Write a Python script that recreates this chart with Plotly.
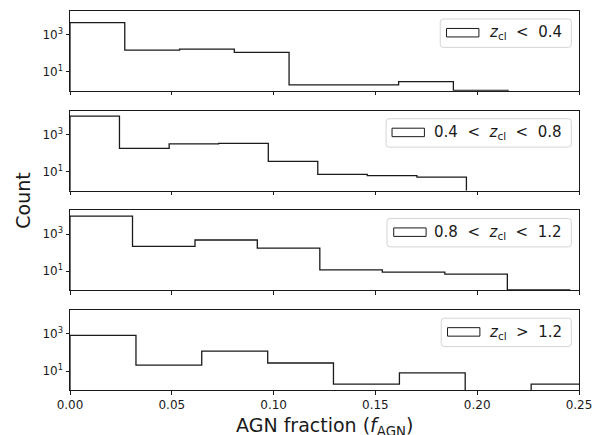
import plotly.graph_objects as go

# ---------------- data ----------------
edges_1 = [0.0, 0.0269, 0.0538, 0.0807, 0.1076, 0.1345, 0.1614, 0.1883, 0.2152]
counts_1 = [4400, 147, 166, 110, 2, 2, 3, 1]

edges_2 = [0.0, 0.0243, 0.0487, 0.0730, 0.0974, 0.1217, 0.1460, 0.1704, 0.1947]
counts_2 = [9500, 178, 307, 330, 35, 7, 6, 5]

edges_3 = [0.0, 0.0307, 0.0614, 0.0920, 0.1227, 0.1534, 0.1841, 0.2148, 0.2454]
counts_3 = [9200, 218, 480, 178, 12, 9, 7, 1]

edges_4 = [0.0, 0.0324, 0.0647, 0.0971, 0.1294, 0.1618, 0.1941, 0.2265, 0.2588]
counts_4 = [820, 21, 117, 27, 2, 8, 0, 2]

legend_labels = [
    "<i>z</i><sub>cl</sub>\u00a0\u00a0<\u00a0\u00a00.4",
    "0.4\u00a0\u00a0<\u00a0\u00a0<i>z</i><sub>cl</sub>\u00a0\u00a0<\u00a0\u00a00.8",
    "0.8\u00a0\u00a0<\u00a0\u00a0<i>z</i><sub>cl</sub>\u00a0\u00a0<\u00a0\u00a01.2",
    "<i>z</i><sub>cl</sub>\u00a0\u00a0>\u00a0\u00a01.2",
]

x_ticks = [0.0, 0.05, 0.10, 0.15, 0.20, 0.25]
y_ticks = [10, 1000]
y_ticktext = ["10<sup>1</sup>", "10<sup>3</sup>"]

# ---------------- layout geometry (pixels) ----------------
W, H = 602, 435
L, R = 70, 581
TOP, BOT = 10, 390
panel_tops = [10, 110, 210, 310]
panel_h = 80
FONT = "DejaVu Sans"
INK = "#1a1a1a"

def px(x, y):
    return ((x - L) / (R - L), (BOT - y) / (BOT - TOP))

fig = go.Figure()

all_edges = [edges_1, edges_2, edges_3, edges_4]
all_counts = [counts_1, counts_2, counts_3, counts_4]
FLOOR = 0.5  # below the axis -> clipped

for i, (e, c) in enumerate(zip(all_edges, all_counts)):
    ax = "" if i == 0 else str(i + 1)
    ys_c = [v if v > 0 else FLOOR for v in c]
    xs = [e[0]] + list(e)
    ys = [FLOOR] + ys_c + [FLOOR]
    fig.add_trace(go.Scatter(
        x=xs, y=ys, mode="lines", line=dict(color=INK, width=1.3, shape="hv"),
        xaxis="x" + ax, yaxis="y" + ax, showlegend=False, hoverinfo="skip"))

layout = dict(
    width=W, height=H,
    margin=dict(l=L, r=W - R, t=TOP, b=H - BOT, pad=0),
    paper_bgcolor="white", plot_bgcolor="white",
    font=dict(family=FONT, size=12, color=INK),
    showlegend=False,
)

for i in range(4):
    ax = "" if i == 0 else str(i + 1)
    t = panel_tops[i]
    d0 = px(0, t + panel_h)[1]
    d1 = px(0, t)[1]
    layout["xaxis" + ax] = dict(
        domain=[0, 1], anchor="y" + ax, range=[0, 0.25],
        tickvals=x_ticks, tickformat=".2f", showticklabels=(i == 3),
        ticks="outside", ticklen=3.5, tickwidth=1, tickcolor=INK,
        showline=True, linecolor=INK, linewidth=1, mirror=True,
        showgrid=False, zeroline=False,
        tickfont=dict(family=FONT, size=12, color=INK),
    )
    if i != 3:
        layout["xaxis" + ax]["matches"] = "x4"
    layout["yaxis" + ax] = dict(
        domain=[d0, d1], anchor="x" + ax, type="log", range=[-0.02, 4.27],
        tickvals=y_ticks, ticktext=y_ticktext,
        ticks="outside", ticklen=3.5, tickwidth=1, tickcolor=INK,
        showline=True, linecolor=INK, linewidth=1, mirror=True,
        showgrid=False, zeroline=False,
        tickfont=dict(family=FONT, size=12, color=INK),
    )

fig.update_layout(**layout)

# ---------------- legends (drawn boxes) ----------------
box_left = [441.7, 387.3, 388.3, 442.7]
patch_left = [448.0, 393.3, 395.0, 449.0]
BOX_R = 573.3
TEXT_R = 566.0
rr = 3.0

def rounded_path(x0, y0, x1, y1, r):
    def P(x, y):
        a, b = px(x, y)
        return f"{a:.5f},{b:.5f}"
    s = "M " + P(x0 + r, y0)
    s += " L " + P(x1 - r, y0)
    s += " Q " + P(x1, y0) + " " + P(x1, y0 + r)
    s += " L " + P(x1, y1 - r)
    s += " Q " + P(x1, y1) + " " + P(x1 - r, y1)
    s += " L " + P(x0 + r, y1)
    s += " Q " + P(x0, y1) + " " + P(x0, y1 - r)
    s += " L " + P(x0, y0 + r)
    s += " Q " + P(x0, y0) + " " + P(x0 + r, y0)
    return s + " Z"

shapes = []
annotations = []
for i in range(4):
    t = panel_tops[i]
    by0, by1 = t + 8.0, t + 36.5
    shapes.append(dict(type="path", xref="paper", yref="paper",
                       path=rounded_path(box_left[i], by0, BOX_R, by1, rr),
                       fillcolor="rgba(255,255,255,0.85)",
                       line=dict(color="#d4d4d4", width=1), layer="above"))
    px0, py0 = px(patch_left[i], t + 17.5)
    px1, py1 = px(patch_left[i] + 32.5, t + 26.0)
    shapes.append(dict(type="rect", xref="paper", yref="paper",
                       x0=px0, x1=px1, y0=py1, y1=py0,
                       fillcolor="white", line=dict(color=INK, width=1),
                       layer="above"))
    tx, ty = px(TEXT_R, t + 22.0)
    annotations.append(dict(xref="paper", yref="paper", x=tx, y=ty,
                            xanchor="right", yanchor="middle", showarrow=False,
                            text=legend_labels[i],
                            font=dict(family=FONT, size=15, color=INK)))

# axis labels
cx, cy = px(22, 200)
annotations.append(dict(xref="paper", yref="paper", x=cx, y=cy, text="Count",
                        textangle=-90, showarrow=False, xanchor="center",
                        yanchor="middle", font=dict(family=FONT, size=19, color=INK)))
lx, ly = px(325.5, 427)
annotations.append(dict(xref="paper", yref="paper", x=lx, y=ly,
                        text="AGN fraction (<i>f</i><sub>AGN</sub>)",
                        showarrow=False, xanchor="center", yanchor="middle",
                        font=dict(family=FONT, size=19, color=INK)))

fig.update_layout(shapes=shapes, annotations=annotations)

fig.write_html("out.html",
               config={"displayModeBar": False},
               post_script="document.body.style.margin='0';document.body.style.padding='0';")
